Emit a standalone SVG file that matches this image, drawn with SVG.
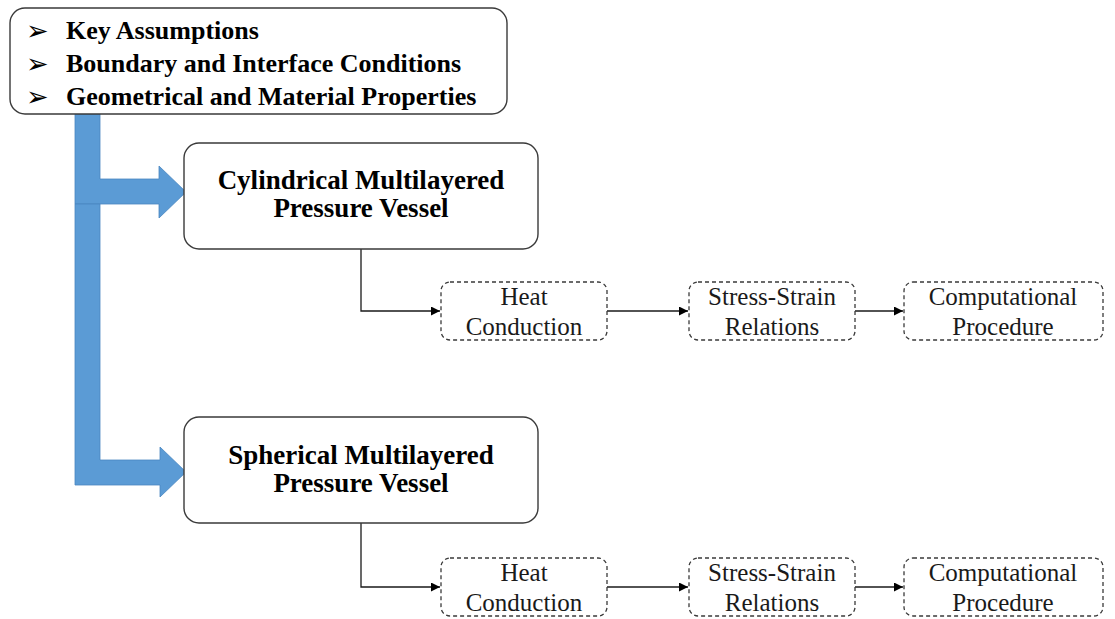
<svg xmlns="http://www.w3.org/2000/svg" width="1115" height="619" viewBox="0 0 1115 619">
<defs>
<style>
.box{fill:#fff;stroke:#3a3a3a;stroke-width:1.4}
.dbox{fill:#fff;stroke:#3a3a3a;stroke-width:1.3;stroke-dasharray:4 3}
.blue{fill:#5B9BD5;stroke:#4A86C0;stroke-width:0.8}
.bt{font-family:"Liberation Serif","Times New Roman",serif;font-weight:bold;fill:#000}
.nt{font-family:"Liberation Serif","Times New Roman",serif;font-size:25px;fill:#1a1a1a;text-anchor:middle}
.bul{font-family:"DejaVu Sans",sans-serif;font-size:27px;fill:#000}
.conn{fill:none;stroke:#1a1a1a;stroke-width:1.3}
</style>
<marker id="ah" viewBox="0 0 10 10" refX="10" refY="5" markerWidth="9" markerHeight="9" markerUnits="userSpaceOnUse" orient="auto">
<path d="M0,0 L10,5 L0,10 z" fill="#000"/>
</marker>
</defs>

<g id="blue-arrows">
<polygon class="blue" points="75,114 100,114 100,179 159,179 159,166 186,192 159,218 159,204 75,204"/>
<polygon class="blue" points="75,204 100,204 100,460 160,460 160,447 186,472 160,497 160,485 75,485"/>
</g>

<g id="connectors">
<polyline class="conn" points="361,249 361,311 440,311" marker-end="url(#ah)"/>
<line class="conn" x1="607" y1="311" x2="688" y2="311" marker-end="url(#ah)"/>
<line class="conn" x1="855" y1="311" x2="903" y2="311" marker-end="url(#ah)"/>
<polyline class="conn" points="361,523 361,587 440,587" marker-end="url(#ah)"/>
<line class="conn" x1="607" y1="587" x2="688" y2="587" marker-end="url(#ah)"/>
<line class="conn" x1="855" y1="587" x2="903" y2="587" marker-end="url(#ah)"/>
</g>

<g id="inputs">
<rect class="box" x="10" y="8" width="497" height="106" rx="15"/>
<text class="bul" x="26" y="40">➢</text>
<text class="bul" x="26" y="73">➢</text>
<text class="bul" x="26" y="106">➢</text>
<text class="bt" font-size="26" x="66" y="39">Key Assumptions</text>
<text class="bt" font-size="26" x="66" y="72">Boundary and Interface Conditions</text>
<text class="bt" font-size="26" x="66" y="105">Geometrical and Material Properties</text>
</g>

<g id="cylindrical">
<rect class="box" x="184" y="143" width="354" height="106" rx="15"/>
<text class="bt" font-size="27" text-anchor="middle" x="361" y="189">Cylindrical Multilayered</text>
<text class="bt" font-size="27" text-anchor="middle" x="361" y="217">Pressure Vessel</text>
</g>

<g id="spherical">
<rect class="box" x="184" y="417" width="354" height="106" rx="15"/>
<text class="bt" font-size="27" text-anchor="middle" x="361" y="464">Spherical Multilayered</text>
<text class="bt" font-size="27" text-anchor="middle" x="361" y="492">Pressure Vessel</text>
</g>

<g id="cyl-heat">
<rect class="dbox" x="441" y="282" width="166" height="58" rx="9"/>
<text class="nt" x="524" y="305">Heat</text>
<text class="nt" x="524" y="335">Conduction</text>
</g>
<g id="cyl-stress">
<rect class="dbox" x="689" y="282" width="166" height="58" rx="9"/>
<text class="nt" x="772" y="305">Stress-Strain</text>
<text class="nt" x="772" y="335">Relations</text>
</g>
<g id="cyl-comp">
<rect class="dbox" x="904" y="282" width="199" height="58" rx="9"/>
<text class="nt" x="1003" y="305">Computational</text>
<text class="nt" x="1003" y="335">Procedure</text>
</g>

<g id="sph-heat">
<rect class="dbox" x="441" y="558" width="166" height="58" rx="9"/>
<text class="nt" x="524" y="581">Heat</text>
<text class="nt" x="524" y="611">Conduction</text>
</g>
<g id="sph-stress">
<rect class="dbox" x="689" y="558" width="166" height="58" rx="9"/>
<text class="nt" x="772" y="581">Stress-Strain</text>
<text class="nt" x="772" y="611">Relations</text>
</g>
<g id="sph-comp">
<rect class="dbox" x="904" y="558" width="199" height="58" rx="9"/>
<text class="nt" x="1003" y="581">Computational</text>
<text class="nt" x="1003" y="611">Procedure</text>
</g>
</svg>
